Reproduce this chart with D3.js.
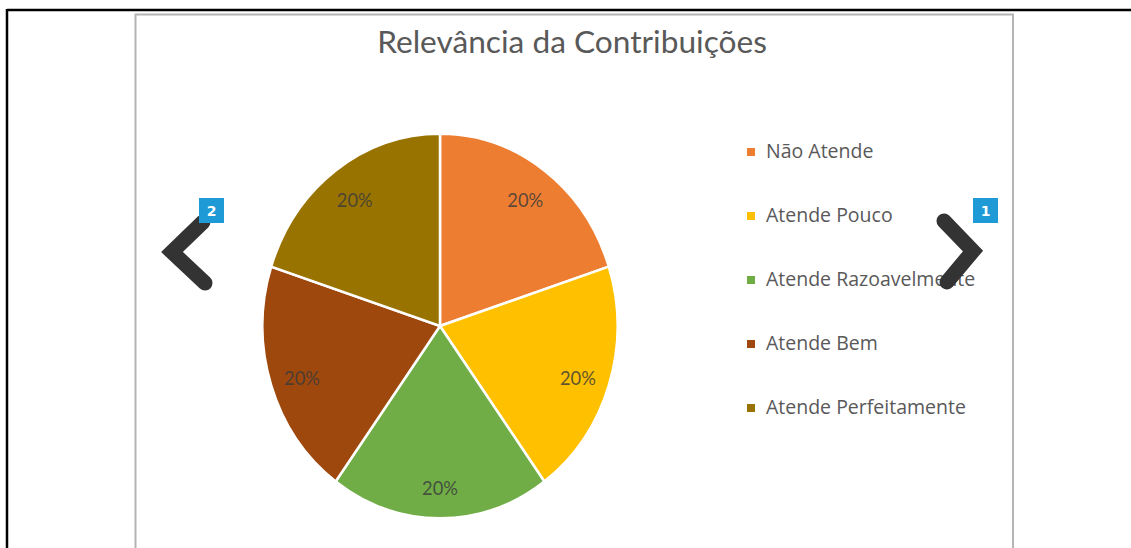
<!DOCTYPE html>
<html>
<head>
<meta charset="utf-8">
<script src="https://cdn.jsdelivr.net/npm/d3@7"></script>
<style>
  html, body { margin: 0; padding: 0; background: #fff; }
  svg { display: block; }
</style>
</head>
<body>
<svg id="chart" width="1131" height="548"></svg>
<script>
const title = "Relevância da Contribuições";
const categories = ["Não Atende", "Atende Pouco", "Atende Razoavelmente", "Atende Bem", "Atende Perfeitamente"];
const values = [20, 20, 20, 20, 20];
const colors = ["#ED7D31", "#FFC000", "#70AD47", "#9E480E", "#997300"];
const badges = ["2", "1"];

const svg = d3.select("#chart");

// page frame lines
svg.append("line").attr("x1", 7).attr("y1", 10).attr("x2", 1131).attr("y2", 10)
  .attr("stroke", "#000").attr("stroke-width", 2.5);
svg.append("line").attr("x1", 7).attr("y1", 9).attr("x2", 7).attr("y2", 548)
  .attr("stroke", "#000").attr("stroke-width", 2.5);

// chart area box
svg.append("path").attr("d", "M135.5,548 V14.5 H1013 V548")
  .attr("fill", "none").attr("stroke", "#b4b4b4").attr("stroke-width", 2);

// title
const t = svg.append("text").attr("x", 572).attr("y", 53)
  .attr("text-anchor", "middle").attr("fill", "#595959")
  .style("font-family", "Lato, 'Open Sans', sans-serif").style("font-size", "27px")
  .text(title);
{
  const w = t.node().getComputedTextLength();
  t.style("font-size", (27 * 390 / w) + "px");
}

// pie
const cx = 440, cy = 326, R = 177.5, sy = 1.083;
const pie = d3.pie().sort(null).value(d => d);
const arcs = pie(values);
const arc = d3.arc().innerRadius(0).outerRadius(R);
const g = svg.append("g").attr("transform", `translate(${cx},${cy}) scale(1,${sy})`);
g.selectAll("path").data(arcs).enter().append("path")
  .attr("d", arc)
  .attr("fill", (d, i) => colors[i])
  .attr("stroke", "#fff")
  .attr("stroke-width", 2.5)
  .attr("vector-effect", "non-scaling-stroke");

const labelArc = d3.arc().innerRadius(145).outerRadius(145);
const lblSy = 1.1, lblDy = 3;
const lbl = svg.selectAll("text.lbl").data(arcs).enter().append("text")
  .attr("class", "lbl")
  .attr("x", d => cx + labelArc.centroid(d)[0])
  .attr("y", d => cy + lblDy + labelArc.centroid(d)[1] * lblSy)
  .attr("dy", "0.36em")
  .attr("text-anchor", "middle")
  .attr("fill", "#3a3a3a").attr("fill-opacity", 0.82)
  .style("font-family", "Lato, 'Open Sans', sans-serif").style("font-size", "19px")
  .text(d => Math.round(d.data) + "%");
{
  const w = lbl.node().getComputedTextLength();
  lbl.style("font-size", (19 * 36 / w) + "px");
}

// legend
const lg = svg.append("g");
const rows = lg.selectAll("g").data(categories).enter().append("g")
  .attr("transform", (d, i) => `translate(747, ${158 + i * 64})`);
rows.append("rect").attr("x", 0).attr("y", -10).attr("width", 8).attr("height", 8)
  .attr("fill", (d, i) => colors[i]);
const lt = rows.append("text").attr("x", 19).attr("y", 0)
  .attr("fill", "#595959")
  .style("font-family", "'Open Sans', sans-serif").style("font-size", "17px")
  .text(d => d);
{
  const w = lt.filter((d, i) => i === 4).node().getComputedTextLength();
  lt.style("font-size", (17 * 200 / w) + "px");
}

// navigation chevrons
const chev = [
  { pts: [[203, 222], [172, 252], [205, 283]], bx: 199, by: 198 },
  { pts: [[944, 221], [973, 251], [947, 282]], bx: 973, by: 198 }
];
chev.forEach((c, i) => {
  svg.append("path").attr("d", d3.line()(c.pts))
    .attr("fill", "none").attr("stroke", "#333")
    .attr("stroke-width", 15).attr("stroke-linecap", "round").attr("stroke-linejoin", "miter");
  svg.append("rect").attr("x", c.bx).attr("y", c.by).attr("width", 25).attr("height", 25)
    .attr("fill", "#1E9AD6");
  svg.append("text").attr("x", c.bx + 12.5).attr("y", c.by + 12.5).attr("dy", "0.36em")
    .attr("text-anchor", "middle").attr("fill", "#fff")
    .style("font-family", "'DejaVu Sans', sans-serif").style("font-weight", "bold").style("font-size", "14px")
    .text(badges[i]);
});
</script>
</body>
</html>
